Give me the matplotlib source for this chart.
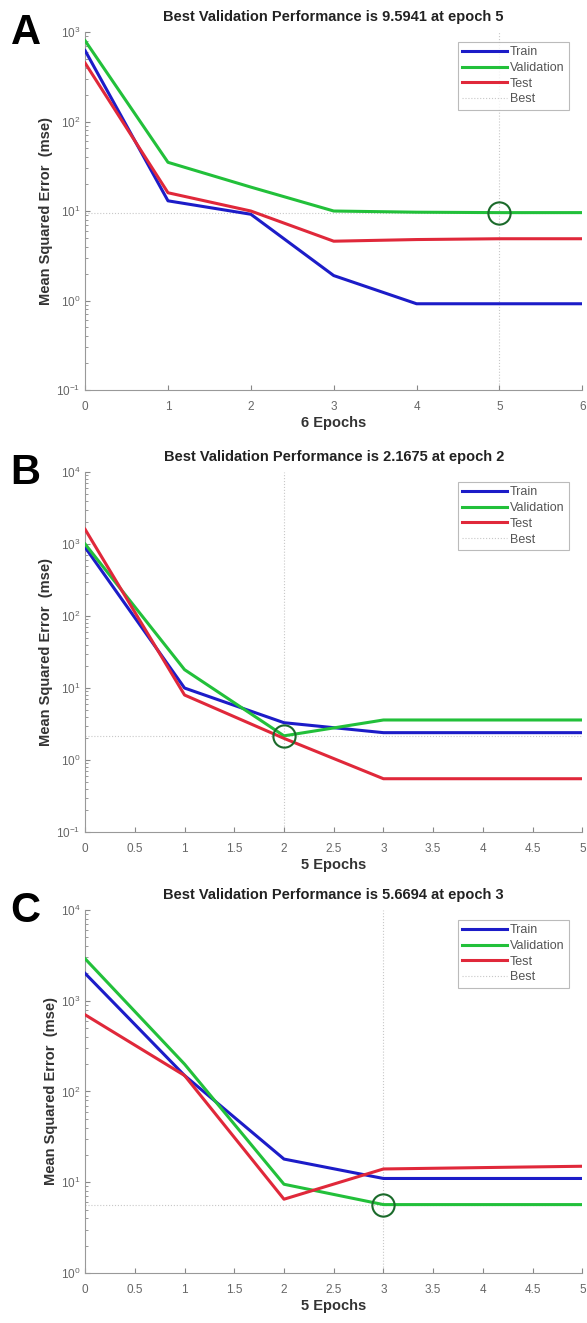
import matplotlib
matplotlib.use("Agg")
import matplotlib.pyplot as plt
import numpy as np

plt.rcParams['font.family'] = ['Liberation Sans', 'DejaVu Sans']

# ---- data ----
epochs_a = [0, 1, 2, 3, 4, 5, 6]
train_a = [620, 13, 9.2, 1.9, 0.92, 0.92, 0.92]
valid_a = [800, 35, 18.5, 10, 9.7, 9.5941, 9.6]
test_a = [450, 16, 10, 4.6, 4.8, 4.9, 4.9]
best_a = (5, 9.5941)

epochs_b = [0, 1, 2, 3, 4, 5]
train_b = [900, 10, 3.3, 2.4, 2.4, 2.4]
valid_b = [1000, 18, 2.1675, 3.6, 3.6, 3.6]
test_b = [1600, 8, 2.0, 0.55, 0.55, 0.55]
best_b = (2, 2.1675)

epochs_c = [0, 1, 2, 3, 4, 5]
train_c = [2000, 150, 18, 11, 11, 11]
valid_c = [2900, 200, 9.5, 5.6694, 5.67, 5.67]
test_c = [700, 150, 6.5, 14, 14.5, 15]
best_c = (3, 5.6694)

panels = [
    dict(letter='A', ep=epochs_a, tr=train_a, va=valid_a, te=test_a, best=best_a,
         ylim=(0.1, 1000), xticks=[0, 1, 2, 3, 4, 5, 6], xlabel='6 Epochs',
         title='Best Validation Performance is 9.5941 at epoch 5',
         rect=[0.1450, 0.7052, 0.847, 0.2706]),
    dict(letter='B', ep=epochs_b, tr=train_b, va=valid_b, te=test_b, best=best_b,
         ylim=(0.1, 10000), xticks=[0, 0.5, 1, 1.5, 2, 2.5, 3, 3.5, 4, 4.5, 5], xlabel='5 Epochs',
         title='Best Validation Performance is 2.1675 at epoch 2',
         rect=[0.1450, 0.3711, 0.847, 0.2721]),
    dict(letter='C', ep=epochs_c, tr=train_c, va=valid_c, te=test_c, best=best_c,
         ylim=(1, 10000), xticks=[0, 0.5, 1, 1.5, 2, 2.5, 3, 3.5, 4, 4.5, 5], xlabel='5 Epochs',
         title='Best Validation Performance is 5.6694 at epoch 3',
         rect=[0.1450, 0.0378, 0.847, 0.2744]),
]

fig = plt.figure(figsize=(5.87, 13.23), dpi=100)

for p in panels:
    ax = fig.add_axes(p['rect'])
    ax.set_yscale('log')
    bx, by = p['best']
    ax.axvline(bx, color='#c8c8c8', lw=0.8, ls=':', zorder=1)
    ax.axhline(by, color='#c8c8c8', lw=0.8, ls=':', zorder=1)
    ax.plot(p['ep'], p['tr'], color='#1c1cc8', lw=2.2, label='Train', zorder=3)
    ax.plot(p['ep'], p['va'], color='#22c03a', lw=2.2, label='Validation', zorder=3)
    ax.plot(p['ep'], p['te'], color='#e0283a', lw=2.2, label='Test', zorder=3)
    ax.plot([], [], color='#c8c8c8', lw=0.8, ls=':', label='Best')
    ax.plot([bx], [by], marker='o', ms=16, mfc='none', mec='#1a6a2a', mew=1.5, zorder=4)
    ax.set_xlim(p['ep'][0], p['ep'][-1])
    ax.set_ylim(*p['ylim'])
    ax.set_xticks(p['xticks'])
    ax.set_xticklabels([('%g' % t) for t in p['xticks']])
    ax.tick_params(axis='both', which='both', direction='in', colors='#888888',
                   labelsize=8.5, labelcolor='#666666')
    ax.tick_params(axis='x', pad=8)
    for s in ['top', 'right']:
        ax.spines[s].set_visible(False)
    for s in ['left', 'bottom']:
        ax.spines[s].set_color('#999999')
    ax.set_xlabel(p['xlabel'], fontsize=10.5, fontweight='bold', color='#333333', labelpad=2)
    ax.set_ylabel('Mean Squared Error  (mse)', fontsize=10.5, fontweight='bold', color='#333333', labelpad=2)
    ax.set_title(p['title'], fontsize=10.5, fontweight='bold', color='#222222', pad=8)
    leg = ax.legend(loc='upper right', fontsize=9, frameon=True, fancybox=False,
                    handlelength=3.6, handletextpad=0.2, borderpad=0.35, labelspacing=0.3,
                    bbox_to_anchor=(0.985, 0.99))
    leg.get_frame().set_edgecolor('#aaaaaa')
    leg.get_frame().set_linewidth(0.8)
    for t in leg.get_texts():
        t.set_color('#555555')
    fig.text(0.018, p['rect'][1] + p['rect'][3] - 0.0005, p['letter'], fontsize=30,
             fontweight='bold', color='black', va='center', ha='left')

fig.savefig('out.png', dpi=100)
